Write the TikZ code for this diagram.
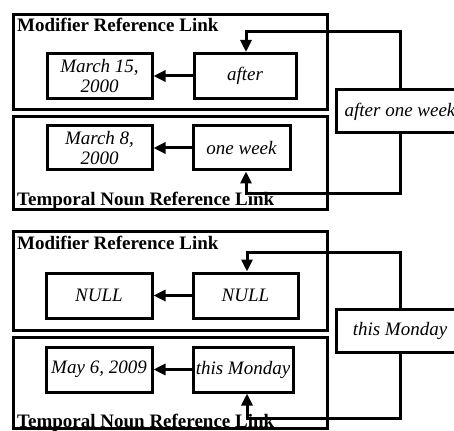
\documentclass[tikz,border=0pt]{standalone}
\usepackage{fontspec}
\setmainfont{Liberation Serif}
\usetikzlibrary{positioning, arrows.meta}

\begin{document}
\begin{tikzpicture}
    [
        x=1pt, y=-1pt,
        on grid,
        panel/.style={draw, rectangle, line width=3pt, inner sep=0pt, minimum width=314pt},
        word/.style={draw, rectangle, line width=3pt, align=center, inner sep=2pt,
            font=\fontsize{19}{20}\selectfont\itshape, minimum height=45pt},
        phrase/.style={word, minimum width=128pt, minimum height=43pt},
        title/.style={anchor=base west, inner sep=0pt, font=\fontsize{19}{21}\selectfont\bfseries},
        link/.style={line width=3pt, -{Triangle[length=12pt, width=11pt]}}
    ]
        \clip (0,0) rectangle (454,430);
        % =========================================================================
        % NODES
        % =========================================================================
        % --- Panel 1 ---
        \node [panel, minimum height=94.5pt] (mod1) at (170,62.25) {};
        \node [panel, minimum height=92pt] (tnr1) at (170,163) {};
        \node [title] (mtitle1) at (17,32) {Modifier Reference Link};
        \node [title] (ttitle1) at (17,205.5) {Temporal Noun Reference Link};
        \node [word, minimum width=102pt] (after) at (245,76) {after};
        \node [word, minimum width=105pt, left=145.5pt of after] (date1) {March 15,\\2000};
        \node [word, minimum width=97pt, minimum height=44pt] (week) at (241.5,148) {one week};
        \node [word, minimum width=105pt, minimum height=44pt, left=142pt of week] (date2) {March 8,\\2000};
        \node [phrase] (phrase1) at (400,111.5) {after one week};
        % --- Panel 2 ---
        \node [panel, minimum height=98.5pt] (mod2) at (170,280.75) {};
        \node [panel, minimum height=91.5pt] (tnr2) at (170,382.75) {};
        \node [title] (mtitle2) at (17,249) {Modifier Reference Link};
        \node [title] (ttitle2) at (17,427) {Temporal Noun Reference Link};
        \node [word, minimum width=105pt] (null2) at (245.5,295.5) {NULL};
        \node [word, minimum width=106pt, left=146.5pt of null2] (null1) {NULL};
        \node [word, minimum width=100pt] (monday) at (243,369.5) {this Monday};
        \node [word, minimum width=106pt, left=144pt of monday] (date3) {May 6, 2009};
        \node [phrase] (phrase2) at (400,330.5) {this Monday};
        % --- bends ---
        \coordinate (top1) at (246,32);
        \coordinate (bot1) at (246,193);
        \coordinate (top2) at (247,252);
        \coordinate (bot2) at (247,418);

        % =========================================================================
        % PATHS
        % =========================================================================
        % --- HORIZONTAL ---
        \draw [link] (after.west) -- (date1.east);
        \draw [link] (week.west) -- (date2.east);
        \draw [link] (null2.west) -- (null1.east);
        \draw [link] (monday.west) -- (date3.east);
        % --- LOOPS ---
        \draw [link] (phrase1.north) |- (top1) -- (top1 |- after.north);
        \draw [link] (phrase1.south) |- (bot1) -- (bot1 |- week.south);
        \draw [link] (phrase2.north) |- (top2) -- (top2 |- null2.north);
        \draw [link] (phrase2.south) |- (bot2) -- (bot2 |- monday.south);

    \end{tikzpicture}
\end{document}
